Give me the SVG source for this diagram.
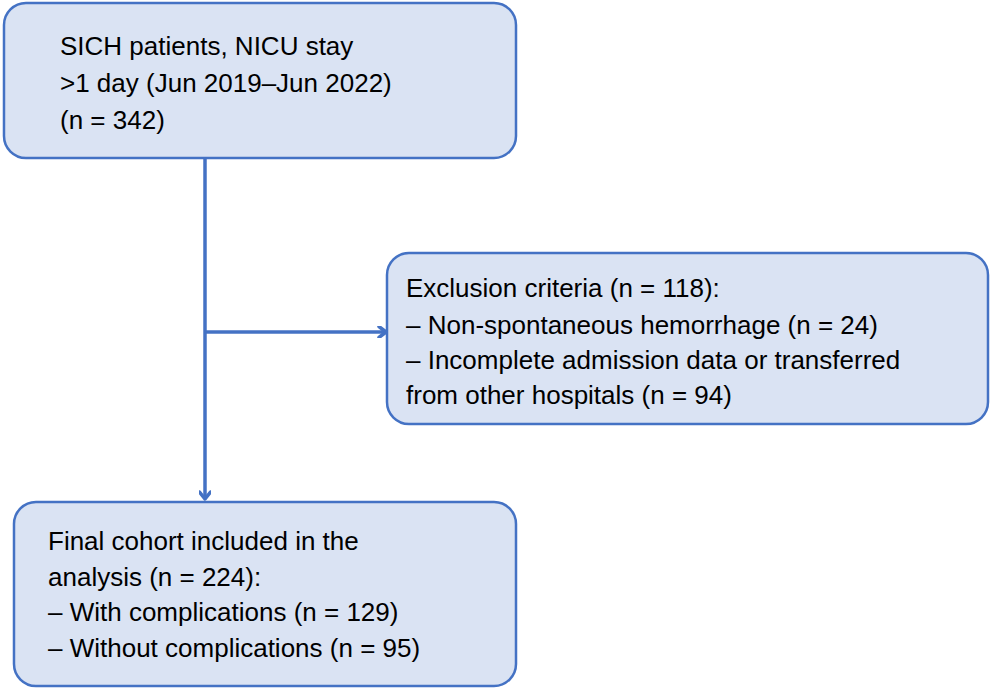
<svg xmlns="http://www.w3.org/2000/svg" width="993" height="689" viewBox="0 0 993 689">
<style>
.box{fill:#dae3f3;stroke:#4472c4;stroke-width:2.5}
.t{font-family:"Liberation Sans",Arial,sans-serif;font-size:26px;fill:#000}
.c{fill:none;stroke:#4472c4;stroke-width:3.5}
</style>
<defs>
<marker id="a" markerWidth="12" markerHeight="12" refX="9" refY="6" orient="auto" markerUnits="userSpaceOnUse">
<path d="M2,0.5 L9,6 L2,11.5" fill="none" stroke="#4472c4" stroke-width="3.5" stroke-linecap="round" stroke-linejoin="round"/>
</marker>
</defs>
<rect width="993" height="689" fill="#fff"/>
<g id="connectors">
<path class="c" d="M205,158 V499" marker-end="url(#a)"/>
<path class="c" d="M205,332 H386" marker-end="url(#a)"/>
</g>
<g id="start">
<rect class="box" x="4" y="3" width="512" height="155" rx="22"/>
<text class="t" x="60" y="55">SICH patients, NICU stay</text>
<text class="t" x="60" y="92">&gt;1 day (Jun 2019–Jun 2022)</text>
<text class="t" x="60" y="129">(n = 342)</text>
</g>
<g id="exclusion">
<rect class="box" x="387" y="253" width="601" height="171" rx="22"/>
<text class="t" x="406" y="297">Exclusion criteria (n = 118):</text>
<text class="t" x="406" y="334">– Non-spontaneous hemorrhage (n = 24)</text>
<text class="t" x="406" y="369">– Incomplete admission data or transferred</text>
<text class="t" x="406" y="404">from other hospitals (n = 94)</text>
</g>
<g id="final">
<rect class="box" x="14" y="502" width="502" height="184" rx="22"/>
<text class="t" x="48" y="550">Final cohort included in the</text>
<text class="t" x="48" y="586">analysis (n = 224):</text>
<text class="t" x="48" y="621">– With complications (n = 129)</text>
<text class="t" x="48" y="657">– Without complications (n = 95)</text>
</g>
</svg>
